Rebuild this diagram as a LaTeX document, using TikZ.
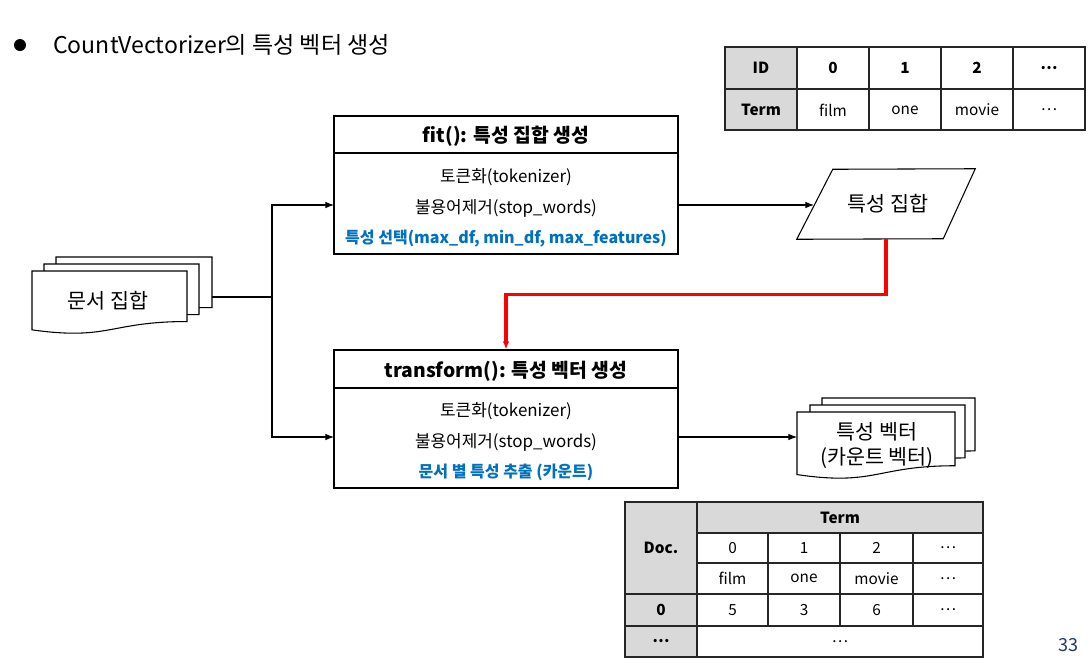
\documentclass[tikz,border=0pt]{standalone}
\usepackage{fontspec}
\setmainfont{Noto Sans CJK KR}
\usetikzlibrary{arrows.meta}
\definecolor{cellgray}{HTML}{D9D9D9}
\definecolor{bluetxt}{HTML}{0070C0}
\definecolor{pageblue}{HTML}{1F3864}
\tikzset{
  conn/.style={line width=0.8pt, -{Latex[length=6.5pt,width=5pt]}},
  plainline/.style={line width=0.8pt},
  redconn/.style={line width=2.4pt, draw={rgb,255:red,255;green,0;blue,0}, -{Latex[length=6pt,width=5pt]}},
  procbox/.style={draw, line width=1pt, minimum width=258pt, minimum height=103.5pt, inner sep=0pt},
  headtxt/.style={font=\fontsize{14.5}{17}\selectfont\bfseries},
  bodytxt/.style={font=\fontsize{12.7}{15}\selectfont},
  bluebold/.style={font=\fontsize{12}{14}\selectfont\bfseries, text=bluetxt},
  shapetxt/.style={font=\fontsize{15.5}{18}\selectfont},
  celltxt/.style={font=\fontsize{11.5}{14}\selectfont, inner sep=0pt},
  cellbold/.style={font=\fontsize{11.5}{14}\selectfont\bfseries, inner sep=0pt},
  gridline/.style={line width=1pt, draw=black!85},
  page/.style={draw, line width=0.8pt, fill=white},
}
% document page: L, T, R, H
\newcommand\mydocpage[4]{%
  \draw[page] (#1,#2) -- (#3,#2) -- (#3,{#2+0.802*#4})
    .. controls ({(#1+#3)/2},{#2+0.802*#4}) and ({(#1+#3)/2},{#2+1.107*#4}) ..
    (#1,{#2+0.934*#4}) -- cycle;}
\begin{document}
\begin{tikzpicture}[x=0.75pt,y=-0.75pt]
\useasboundingbox (0,0) rectangle (1089,662);

% title
\node[circle, fill, inner sep=0pt, minimum size=9pt] (bullet) at (20,45) {};
\node[anchor=west, inner sep=0pt, font=\fontsize{17.3}{20}\selectfont] (title) at (53,45) {CountVectorizer의 특성 벡터 생성};

% top table
\fill[cellgray] (725,47) rectangle (797,130);
\draw[gridline] (725,47) rectangle (1085,130);
\draw[gridline] (725,89) -- (1085,89);
\foreach \x in {797,869,941,1013} \draw[gridline] (\x,47) -- (\x,130);
\node[cellbold] (tid) at (761,68) {ID};
\node[cellbold] (t0) at (833,68) {0};
\node[cellbold] (t1) at (905,68) {1};
\node[cellbold] (t2) at (977,68) {2};
\node[cellbold] (t3) at (1049,68) {…};
\node[cellbold] (tterm) at (761,110) {Term};
\node[celltxt] (tfilm) at (833,110) {film};
\node[celltxt] (tone) at (905,110) {one};
\node[celltxt] (tmovie) at (977,110) {movie};
\node[celltxt] (tdots) at (1049,110) {…};

% fit box
\node[procbox] (fit) at (506,185) {};
\draw[line width=1pt] (fit.west |- 0,153) -- (fit.east |- 0,153);
\node[headtxt] (fith) at (506,136) {fit(): 특성 집합 생성};
\node[bodytxt] (fit1) at (506,177) {토큰화(tokenizer)};
\node[bodytxt] (fit2) at (506,208) {불용어제거(stop\_words)};
\node[bluebold] (fit3) at (506,239) {특성 선택(max\_df, min\_df, max\_features)};

% transform box
\node[procbox] (trans) at (506,419) {};
\draw[line width=1pt] (trans.west |- 0,388) -- (trans.east |- 0,388);
\node[headtxt] (transh) at (506,371) {transform(): 특성 벡터 생성};
\node[bodytxt] (tr1) at (506,411) {토큰화(tokenizer)};
\node[bodytxt] (tr2) at (506,442) {불용어제거(stop\_words)};
\node[bluebold] (tr3) at (506,472) {문서 별 특성 추출 (카운트)};

% document set (multi-document)
\mydocpage{56}{257}{212}{63}
\mydocpage{44}{264}{199}{63}
\mydocpage{32}{271}{187}{63}
\node[shapetxt] (docs) at (108,301) {문서 집합};
\coordinate (docsR) at (212,297);
\coordinate (junc) at (272,297);
\coordinate (fitin) at (334,205);
\coordinate (transin) at (334,437);

% feature set parallelogram
\node[draw=none, minimum width=133.5pt, minimum height=52.5pt, inner sep=0pt] (fset) at (886,204) {};
\draw[line width=0.8pt] (fset.south west) -- ++(36,-70) -- (fset.north east) -- ++(-32,70) -- cycle;
\node[shapetxt] (fsettxt) at (888,204) {특성 집합};
\coordinate (fitout) at (678,205);
\coordinate (fsetin) at (814,205);

% feature vector (multi-document)
\mydocpage{822}{398}{975}{66}
\mydocpage{810}{405}{965}{66}
\mydocpage{797}{412}{955}{67}
\node[shapetxt] (vec1) at (877,432) {특성 벡터};
\node[shapetxt] (vec2) at (877,458) {(카운트 벡터)};
\coordinate (transout) at (678,437);
\coordinate (vecin) at (797,437);

% connectors
\draw[plainline] (docsR) -- (junc);
\draw[conn] (junc) |- (fitin);
\draw[conn] (junc) |- (transin);
\draw[conn] (fitout) -- (fsetin);
\draw[conn] (transout) -- (vecin);
\draw[redconn] (fset.south) -- ++(0,55) -| (trans.north);

% bottom table
\fill[cellgray] (625,502) rectangle (697,657);
\fill[cellgray] (697,502) rectangle (983,533);
\draw[gridline] (625,502) rectangle (983,657);
\draw[gridline] (697,502) -- (697,657);
\draw[gridline] (697,533) -- (983,533);
\draw[gridline] (697,563) -- (983,563);
\draw[gridline] (625,594) -- (983,594);
\draw[gridline] (625,626) -- (983,626);
\foreach \x in {768,840,913} \draw[gridline] (\x,533) -- (\x,626);
\node[cellbold] (bdoc) at (661,548) {Doc.};
\node[cellbold] (bterm) at (840,517.5) {Term};
\node[celltxt] (b0) at (732.5,548) {0};
\node[celltxt] (b1) at (804,548) {1};
\node[celltxt] (b2) at (876.5,548) {2};
\node[celltxt] (b3) at (948,548) {…};
\node[celltxt] (bfilm) at (732.5,578.5) {film};
\node[celltxt] (bone) at (804,578.5) {one};
\node[celltxt] (bmovie) at (876.5,578.5) {movie};
\node[celltxt] (bdots) at (948,578.5) {…};
\node[cellbold] (br0) at (661,610) {0};
\node[celltxt] (bv5) at (732.5,610) {5};
\node[celltxt] (bv3) at (804,610) {3};
\node[celltxt] (bv6) at (876.5,610) {6};
\node[celltxt] (bvd) at (948,610) {…};
\node[cellbold] (brd) at (661,641.5) {…};
\node[celltxt] (bspan) at (840,641.5) {…};

% page number
\node[text=pageblue, font=\fontsize{13.5}{16}\selectfont] (pnum) at (1068,645) {33};
\end{tikzpicture}
\end{document}
